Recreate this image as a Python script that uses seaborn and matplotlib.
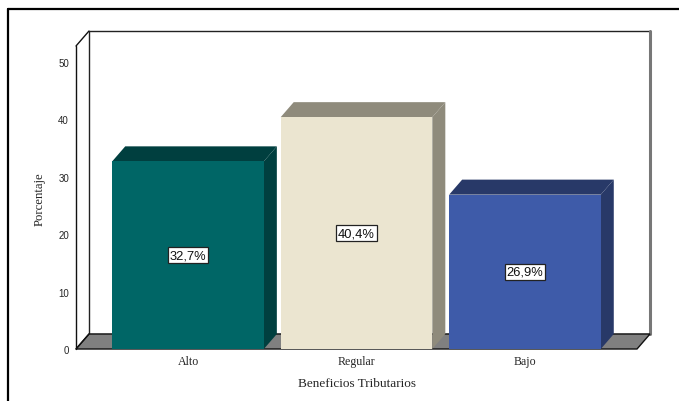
import matplotlib
matplotlib.use("Agg")
import matplotlib.pyplot as plt
from matplotlib.lines import Line2D
from matplotlib.patches import Polygon
import seaborn as sns

# ---- data ----
categories = ["Alto", "Regular", "Bajo"]
values = [32.7, 40.4, 26.9]
value_labels = ["32,7%", "40,4%", "26,9%"]
yticks = [0, 10, 20, 30, 40, 50]
front_colors = ["#006666", "#EBE5D0", "#3E5BA9"]
dark_colors = ["#003F3F", "#8F8B7C", "#283968"]
x_title = "Beneficios Tributarios"
y_title = "Porcentaje"

sns.set_style("white")
plt.rcParams["font.family"] = ["Liberation Serif", "DejaVu Serif"]

W, H = 679, 402
fig = plt.figure(figsize=(W / 100, H / 100), dpi=100)
fig.patch.set_facecolor("white")

# axes area (front plane)
L, R, B, T = 76, 637, 350, 47
ax = fig.add_axes([L / W, (H - B) / H, (R - L) / W, (B - T) / H])
ax.set_facecolor("none")

sns.barplot(x=categories, y=values, hue=categories, palette=front_colors,
            width=0.9, saturation=1, legend=False, ax=ax, edgecolor="none",
            linewidth=0)

XMIN, XMAX, YMAX = -0.665, 2.665, 52.8
ax.set_xlim(XMIN, XMAX)
ax.set_ylim(0, YMAX)

# depth in data units from pixel depth
DX_PX, DY_PX = 13, 15
dx = DX_PX * (XMAX - XMIN) / (R - L)
dy = DY_PX * YMAX / (B - T)

# back wall
wall = Polygon([(XMIN + dx, dy), (XMAX + dx, dy), (XMAX + dx, YMAX + dy),
                (XMIN + dx, YMAX + dy)], closed=True, facecolor="white",
               edgecolor="#222222", lw=1.0, clip_on=False, zorder=0.2)
ax.add_patch(wall)
ax.add_line(Line2D([XMAX + dx, XMAX + dx], [dy, YMAX + dy], color="#777777",
                   lw=2.2, clip_on=False, zorder=0.3))
# floor
floor = Polygon([(XMIN, 0), (XMAX, 0), (XMAX + dx, dy), (XMIN + dx, dy)],
                closed=True, facecolor="#808080", edgecolor="#111111", lw=1.0,
                clip_on=False, zorder=0.5)
ax.add_patch(floor)
# front-left axis edges
ax.add_line(Line2D([XMIN, XMIN], [0, YMAX], color="#111111", lw=1.0,
                   clip_on=False, zorder=0.6))
ax.add_line(Line2D([XMIN, XMIN + dx], [YMAX, YMAX + dy], color="#111111",
                   lw=1.0, clip_on=False, zorder=0.6))
ax.add_line(Line2D([XMIN, XMIN + dx], [0, dy], color="#111111",
                   lw=1.0, clip_on=False, zorder=0.6))

# 3D bars: side and top faces
for i, p in enumerate(ax.patches[:len(values)]):
    p.set_zorder(2)
    x0 = p.get_x()
    w = p.get_width()
    h = p.get_height()
    side = Polygon([(x0 + w, 0), (x0 + w + dx, dy), (x0 + w + dx, h + dy),
                    (x0 + w, h)], closed=True, facecolor=dark_colors[i],
                   edgecolor="none", clip_on=False, zorder=1.9)
    top = Polygon([(x0, h), (x0 + w, h), (x0 + w + dx, h + dy),
                   (x0 + dx, h + dy)], closed=True, facecolor=dark_colors[i],
                  edgecolor="none", clip_on=False, zorder=1.9)
    ax.add_patch(side)
    ax.add_patch(top)
    ax.text(x0 + w / 2, h / 2, value_labels[i], ha="center", va="center",
            fontsize=9.3, family=["Liberation Sans"], color="#111111",
            zorder=5,
            bbox=dict(boxstyle="square,pad=0.16", facecolor="white",
                      edgecolor="#222222", lw=0.9))

for s in ax.spines.values():
    s.set_visible(False)
ax.set_yticks(yticks)
ax.set_yticklabels([str(t) for t in yticks], family=["Liberation Sans"],
                   fontsize=7)
ax.tick_params(axis="y", length=0, pad=5)
ax.tick_params(axis="x", length=0, pad=4.5, labelsize=8.6)
for lbl in ax.get_xticklabels():
    lbl.set_family(["Liberation Serif"])
ax.set_xlabel("")
ax.set_ylabel("")

fig.text(356.5 / W, 1 - 384 / H, x_title, ha="center", va="center",
         fontsize=9.5)
fig.text(40 / W, 1 - 199 / H, y_title, ha="center", va="center",
         rotation=90, fontsize=9.2)

# outer frame
fig.add_artist(Line2D([8 / W, 1], [1 - 10 / H, 1 - 10 / H],
                      transform=fig.transFigure, color="black", lw=1.6))
fig.add_artist(Line2D([8 / W, 8 / W], [0, 1 - 10 / H],
                      transform=fig.transFigure, color="black", lw=1.6))

fig.savefig("out.png", dpi=100)
